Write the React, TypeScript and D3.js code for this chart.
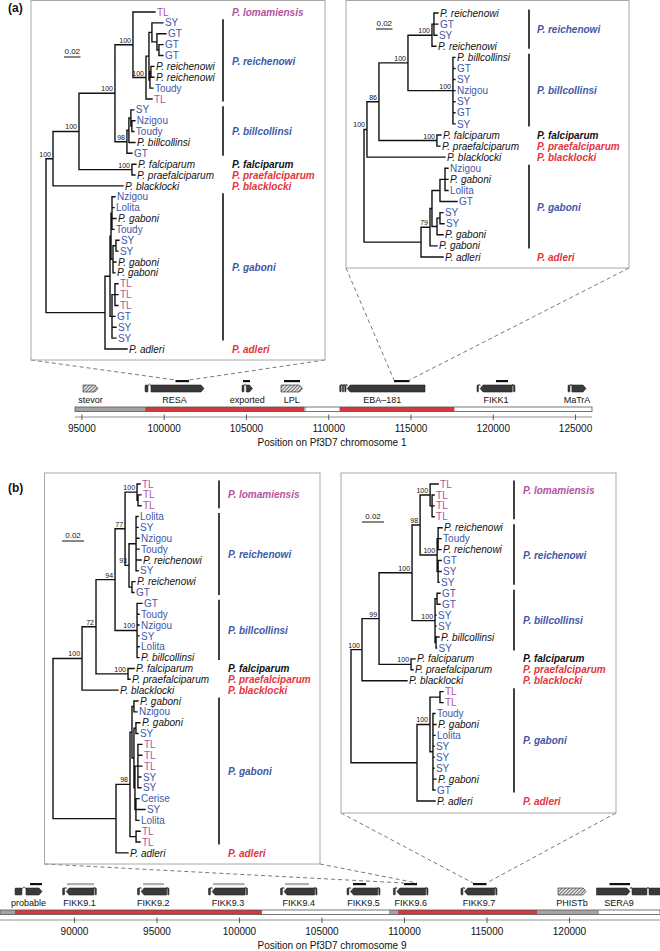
import React from "react";
import * as d3 from "d3";

const FONT = "'Liberation Sans', Arial, Helvetica, sans-serif";
const COLORS: Record<string, string> = { blue: "#3f58a8", magenta: "#b4529f", red: "#e4343d", black: "#111111" };

// ---------- Trees (Newick, branch lengths in 1e-3 substitutions/site) ----------
const A1_REI = "(((SY:13.3,(GT:10.9,(GT:4.8,GT:4.8):2.4):6.1):3.6,((P. reichenowi:3.6,P. reichenowi:3.6):1.2,Toudy:3.6):1.2):3.6,TL:7.3)100:15.8";
const A1_BILL = "(((SY:3.6,(Nzigou:3.6,Toudy:2.4):1.2):2.4,P. billcollinsi:7.3):2.4,GT:6.1)98:14.5";
const A1_FP = "(P. falciparum:4.8,P. praefalciparum:3.6)100:64.2";
const A1_GAB = "((((Nzigou:3.6,Lolita:2.4,P. gaboni:4.8,Toudy:2.4):1.2,((SY:3.6,SY:2.4):3.6,P. gaboni:3.6,P. gaboni:2.4):2.4):1.2,((TL:3.6,TL:3.6,TL:3.6):3.6,GT:3.6,SY:4.8,SY:4.8):2.4):6.1,P. adleri:26.7):71.5";
const TREE_A1 = "(((((TL:26.7," + A1_REI + ")100:21.8," + A1_BILL + ")100:43.6," + A1_FP + ")100:31.5,P. blacklocki:84.8)100:8.5," + A1_GAB + ");";

const A2_REI = "((P. reichenowi:4.8,GT:4.8,SY:3.6):2.4,P. reichenowi:4.8)100:29.1";
const A2_BILL = "(P. billcollinsi:2.4,GT:2.4,SY:2.4,Nzigou:2.4,SY:2.4,GT:2.4,SY:2.4)100:54.5";
const A2_FP = "(P. falciparum:4.8,P. praefalciparum:3.6)100:70.3";
const A2_GAB = "(((((Nzigou:3.6,P. gaboni:3.6,Lolita:3.6):6.1,GT:20.6):9.7,((SY:3.6,SY:4.8):3.6,P. gaboni:7.3):6.1):2.4,P. gaboni:8.5)79:10.9,P. adleri:26.7):69.1";
const TREE_A2 = "((((" + A2_REI + "," + A2_BILL + ")100:35.2," + A2_FP + ")86:14.5,P. blacklocki:94.5)100:3.6," + A2_GAB + ");";

const B1_TL = "(TL:2.7,(TL:2.7,TL:2.7):0.9)100:10.9";
const B1_REI = "((Lolita:1.8,SY:1.8,Nzigou:2.7,Toudy:2.7,P. reichenowi:4.5,SY:1.8):6.4,(P. reichenowi:2.7,GT:1.8):2.7)93:3.6";
const B1_BILL = "(GT:4.5,Toudy:1.8,Nzigou:1.8,SY:1.8,Lolita:1.8,P. billcollinsi:1.8)100:20";
const B1_FP = "(P. falciparum:5.5,P. praefalciparum:1.8)100:29.1";
const B1_GAB = "((((P. gaboni:3.6,Nzigou:2.7):1.8,((P. gaboni:3.6,SY:1.8):1.8,((TL:3.6,TL:3.6,TL:3.6,SY:2.7,SY:2.7):2.7,(Cerise:2.7,SY:8.2,Lolita:2.7):0.9):0.9):1.8):1.8,(TL:3.6,TL:3.6):5.5)98:12.7,P. adleri:10.9):57.3";
const TREE_B1 = "(((((" + B1_TL + "," + B1_REI + ")77:9.1," + B1_BILL + ")94:17.3," + B1_FP + ")72:12.7,P. blacklocki:32.7)100:26.4," + B1_GAB + ");";

const B2_TL = "(TL:7.3,(TL:1.8,TL:1.8,TL:1.8):1.8)100:9.1";
const B2_REI = "((P. reichenowi:3.6,Toudy:2.7,P. reichenowi:2.7):0.9,(GT:2.7,SY:2.7,SY:0.9):0.9)100:15.5";
const B2_BILL = "((GT:2.7,GT:2.7):1.8,SY:0.9,SY:0.9,(P. billcollinsi:2.7,SY:0.5):0.9)100:20.9";
const B2_FP = "(P. falciparum:3.6,P. praefalciparum:1.8)100:29.1";
const B2_GAB = "(((TL:2.7,TL:2.7):9.1,(Toudy:1.8,P. gaboni:2.7,Lolita:1.8,SY:0.9,SY:0.9,SY:0.9,P. gaboni:2.7,GT:1.8):2.7)100:11.8,P. adleri:16.4):60";
const TREE_B2 = "(((((" + B2_TL + "," + B2_REI + ")98:7.3," + B2_BILL + ")100:30," + B2_FP + ")99:15.5,P. blacklocki:40.9)100:10," + B2_GAB + ");";

// ---------- Clade annotations: [name, colour, first row, last row, bar, label row] ----------
type Clade = [string, string, number, number, boolean, number?];
const CLADES_A1: Clade[] = [
  ["P. lomamiensis", "magenta", 0, 0, false],
  ["P. reichenowi", "blue", 1, 8, true],
  ["P. billcollinsi", "blue", 9, 13, true],
  ["P. falciparum", "black", 14, 14, false],
  ["P. praefalciparum", "red", 15, 15, false],
  ["P. blacklocki", "red", 16, 16, false],
  ["P. gaboni", "blue", 17, 30, true],
  ["P. adleri", "red", 31, 31, false],
];
const CLADES_A2: Clade[] = [
  ["P. reichenowi", "blue", 0, 3, true],
  ["P. billcollinsi", "blue", 4, 10, true],
  ["P. falciparum", "black", 11, 11, false],
  ["P. praefalciparum", "red", 12, 12, false],
  ["P. blacklocki", "red", 13, 13, false],
  ["P. gaboni", "blue", 14, 21, true],
  ["P. adleri", "red", 22, 22, false],
];
const CLADES_B1: Clade[] = [
  ["P. lomamiensis", "magenta", 0, 2, true],
  ["P. reichenowi", "blue", 3, 10, true],
  ["P. billcollinsi", "blue", 11, 16, true],
  ["P. falciparum", "black", 17, 17, false],
  ["P. praefalciparum", "red", 18, 18, false],
  ["P. blacklocki", "red", 19, 19, false],
  ["P. gaboni", "blue", 20, 33, true],
  ["P. adleri", "red", 34, 34, false],
];
const CLADES_B2: Clade[] = [
  ["P. lomamiensis", "magenta", 0, 3, true, 0.6],
  ["P. reichenowi", "blue", 4, 9, true],
  ["P. billcollinsi", "blue", 10, 15, true],
  ["P. falciparum", "black", 16, 16, false],
  ["P. praefalciparum", "red", 17, 17, false],
  ["P. blacklocki", "red", 18, 18, false],
  ["P. gaboni", "blue", 19, 28, true],
  ["P. adleri", "red", 29, 29, false],
];

// ---------- Genome tracks ----------
type Gene = { name: string; exons: number[][]; strand: number; hatch?: boolean; marker?: number[]; grey?: boolean; labelAt?: number };
const SEGMENTS_A: [number, number, string][] = [
  [94580, 98840, "grey"], [98840, 108520, "red"], [108520, 108610, "grey"],
  [108610, 110660, "white"], [110660, 117650, "red"], [117650, 126000, "white"],
];
const GENES_A: Gene[] = [
  { name: "stevor", exons: [[95066, 95978]], strand: 1, hatch: true },
  { name: "RESA", exons: [[98834, 99016], [99199, 102420]], strand: 1, marker: [100688, 101508] },
  { name: "exported", exons: [[104729, 104850], [104990, 105367]], strand: 1, marker: [104790, 105215] },
  { name: "LPL", exons: [[107099, 108406]], strand: 1, hatch: true, marker: [107281, 108254] },
  { name: "EBA\u2013181", exons: [[110667, 110750], [110820, 110900], [110970, 111050], [111120, 115851]], strand: -1, marker: [113967, 114909] },
  { name: "FIKK1", exons: [[119011, 119100], [119200, 121150], [121230, 121320]], strand: -1, marker: [120165, 120894] },
  { name: "MaTrA", exons: [[124541, 124660], [124780, 125635]], strand: 1 },
];
const TICKS_A = [95000, 100000, 105000, 110000, 115000, 120000, 125000];

const SEGMENTS_B: [number, number, string][] = [
  [85485, 86390, "grey"], [86390, 101360, "red"], [101360, 109060, "white"], [109060, 109610, "grey"],
  [109610, 118030, "red"], [118030, 121790, "grey"], [121790, 125485, "white"],
];
const GENES_B: Gene[] = [
  { name: "probable", exons: [[86394, 86818], [87061, 88030]], strand: 1, marker: [87303, 88030] },
  { name: "FIKK9.1", exons: [[89279, 89400], [89500, 91180], [91250, 91327]], strand: -1, marker: [89545, 91182], grey: true },
  { name: "FIKK9.2", exons: [[93818, 93940], [94040, 95580], [95650, 95727]], strand: -1, marker: [94152, 95424], grey: true },
  { name: "FIKK9.3", exons: [[98121, 98240], [98340, 100340], [100410, 100485]], strand: -1, marker: [98394, 100303], grey: true },
  { name: "FIKK9.4", exons: [[102485, 102600], [102700, 104550], [104620, 104697]], strand: -1, marker: [102758, 104212], grey: true },
  { name: "FIKK9.5", exons: [[106515, 106630], [106730, 108370], [108440, 108515]], strand: -1, marker: [106879, 107667] },
  { name: "FIKK9.6", exons: [[109327, 109440], [109540, 111280], [111350, 111424]], strand: -1, marker: [109970, 110758] },
  { name: "FIKK9.7", exons: [[113424, 113540], [113640, 115460], [115530, 115606]], strand: -1, marker: [114152, 114970] },
  { name: "PHISTb", exons: [[119303, 121000]], strand: 1, hatch: true },
  { name: "SERA9", exons: [[121636, 123667], [123788, 124697], [124818, 125606]], strand: 1, marker: [122424, 123667], labelAt: 123000 },
];
const TICKS_B = [90000, 95000, 100000, 105000, 110000, 115000, 120000];

// ---------- Layout configuration ----------
const TREES = [
  { id: "a1", newick: TREE_A1, clades: CLADES_A1, rootX: 46, y0: 12, dy: 10.87, k: 0.825, barX: 223, textX: 232, scaleX: 64, scaleY: 57, box: [31, 0.5, 325, 360] },
  { id: "a2", newick: TREE_A2, clades: CLADES_A2, rootX: 364, y0: 13, dy: 11.09, k: 0.825, barX: 529, textX: 537, scaleX: 376, scaleY: 29, box: [346, 0.5, 629, 268] },
  { id: "b1", newick: TREE_B1, clades: CLADES_B1, rootX: 53, y0: 484, dy: 10.85, k: 1.1, barX: 219, textX: 228, scaleX: 62, scaleY: 541, box: [44.5, 473, 320, 864] },
  { id: "b2", newick: TREE_B2, clades: CLADES_B2, rootX: 351, y0: 484, dy: 10.93, k: 1.1, barX: 514, textX: 523, scaleX: 362, scaleY: 522, box: [341, 473, 616, 813] },
];
const TRACKS = [
  { id: "A", segments: SEGMENTS_A, genes: GENES_A, ticks: TICKS_A, domain: [94580, 126000], range: [75, 592], top: 381, title: "Position on Pf3D7 chromosome 1", links: [["a1", "RESA"], ["a2", "EBA\u2013181"]] },
  { id: "B", segments: SEGMENTS_B, genes: GENES_B, ticks: TICKS_B, domain: [85485, 125485], range: [0, 660], top: 884, title: "Position on Pf3D7 chromosome 9", links: [["b1", "FIKK9.6"], ["b2", "FIKK9.7"]] },
];

type PNode = { name: string; support: string; length: number; children: PNode[] };
function parseNewick(s: string): PNode {
  let i = 0;
  const read = (): PNode => {
    const node: PNode = { name: "", support: "", length: 0, children: [] };
    if (s[i] === "(") {
      i++;
      node.children.push(read());
      while (s[i] === ",") { i++; node.children.push(read()); }
      i++;
    }
    let label = "";
    while (i < s.length && !",():;".includes(s[i])) label += s[i++];
    label = label.trim();
    if (node.children.length) node.support = label; else node.name = label;
    if (s[i] === ":") {
      i++;
      let num = "";
      while (i < s.length && !",();".includes(s[i])) num += s[i++];
      node.length = parseFloat(num);
    }
    return node;
  };
  return read();
}

function leafColor(name: string) {
  if (name.startsWith("P. ")) return COLORS.black;
  if (name === "TL") return COLORS.magenta;
  return COLORS.blue;
}

function Tree({ cfg }: { cfg: any }) {
  const root: any = d3.hierarchy(parseNewick(cfg.newick), (d: PNode) => (d.children.length ? d.children : null));
  root.each((n: any) => { n.dist = n.parent ? n.parent.dist + n.data.length : 0; });
  const xs = d3.scaleLinear().domain([0, 1]).range([cfg.rootX, cfg.rootX + cfg.k]);
  const leaves = root.leaves();
  const ys = d3.scaleLinear().domain([0, 1]).range([cfg.y0, cfg.y0 + cfg.dy]);
  leaves.forEach((l: any, i: number) => { l.py = ys(i); });
  root.eachAfter((n: any) => {
    if (n.children) n.py = (n.children[0].py + n.children[n.children.length - 1].py) / 2;
  });
  root.each((n: any) => { n.px = xs(n.dist); });
  const nodes = root.descendants();
  let d = "";
  nodes.forEach((n: any) => {
    if (n.parent) d += `M${n.parent.px},${n.py}H${n.px}`;
    if (n.children) d += `M${n.px},${n.children[0].py}V${n.children[n.children.length - 1].py}`;
  });
  const [bx0, by0, bx1, by1] = cfg.box;
  return (
    <g>
      <rect x={bx0} y={by0} width={bx1 - bx0} height={by1 - by0} fill="none" stroke="#a8a8a8" strokeWidth={1} />
      <path d={d} fill="none" stroke="#111" strokeWidth={1.4} strokeLinecap="square" />
      {nodes.filter((n: any) => n.children && n.data.support).map((n: any, i: number) => (
        <text key={"s" + i} x={n.px - 2} y={n.py - 2} fontSize={7} textAnchor="end" fill="#111">{n.data.support}</text>
      ))}
      {leaves.map((l: any, i: number) => (
        <text key={"l" + i} x={l.px + 2} y={l.py + 3.6} fontSize={10} fill={leafColor(l.data.name)}
          fontStyle={l.data.name.startsWith("P. ") ? "italic" : "normal"}>{l.data.name}</text>
      ))}
      {cfg.clades.map((c: Clade, i: number) => {
        const [name, col, first, last, bar, lr] = c;
        const yl = lr !== undefined ? ys(lr) : (ys(first) + ys(last)) / 2;
        return (
          <g key={"c" + i}>
            {bar && <line x1={cfg.barX} x2={cfg.barX} y1={ys(first) - 3.5} y2={ys(last) + 2.5} stroke="#111" strokeWidth={1.6} />}
            <text x={cfg.textX} y={yl + 3.6} fontSize={10} fontWeight="bold" fontStyle="italic" fill={COLORS[col]}>{name}</text>
          </g>
        );
      })}
      <line x1={cfg.scaleX} x2={xs(20) - cfg.rootX + cfg.scaleX} y1={cfg.scaleY} y2={cfg.scaleY} stroke="#111" strokeWidth={1} />
      <text x={(xs(20) - cfg.rootX) / 2 + cfg.scaleX} y={cfg.scaleY - 3} fontSize={8} textAnchor="middle" fill="#111">0.02</text>
    </g>
  );
}

function Track({ tr }: { tr: any }) {
  const x = d3.scaleLinear().domain(tr.domain).range(tr.range);
  const t = tr.top;
  const gy0 = t + 4, gy1 = t + 11, gcy = (gy0 + gy1) / 2;
  const segFill: Record<string, string> = { grey: "#a3a3a3", red: "#d2383d", white: "#ffffff" };
  return (
    <g>
      {tr.genes.map((g: Gene, gi: number) => {
        const ex = g.exons.map(([s, e]) => [x(s), x(e)]);
        let mi = 0;
        ex.forEach((e, i) => { if (e[1] - e[0] > ex[mi][1] - ex[mi][0]) mi = i; });
        const fill = g.hatch ? "url(#hatch)" : "#3a3a3a";
        const lx = g.labelAt !== undefined ? x(g.labelAt) : (ex[0][0] + ex[ex.length - 1][1]) / 2;
        return (
          <g key={gi}>
            {g.marker && <rect x={x(g.marker[0])} y={t - 1} width={x(g.marker[1]) - x(g.marker[0])} height={2.2} fill={g.grey ? "#b0b0b0" : "#111"} />}
            {ex.slice(1).map((e, i) => {
              const a = ex[i][1], b = e[0];
              return <path key={"i" + i} d={`M${a},${gy0 + 1}Q${(a + b) / 2},${gy0 - 3} ${b},${gy0 + 1}`} fill="none" stroke="#333" strokeWidth={0.8} />;
            })}
            {ex.map(([a, b], i) => {
              if (i !== mi) return <rect key={"e" + i} x={a} y={gy0} width={Math.max(b - a, 1.2)} height={gy1 - gy0} rx={0.8} fill={fill} stroke="#222" strokeWidth={0.5} />;
              const p = g.strand > 0
                ? `M${a},${gy0}H${b - 3}L${b},${gcy}L${b - 3},${gy1}H${a}Z`
                : `M${b},${gy0}H${a + 3}L${a},${gcy}L${a + 3},${gy1}H${b}Z`;
              return <path key={"e" + i} d={p} fill={fill} stroke="#222" strokeWidth={0.6} />;
            })}
            <text x={lx} y={t + 22} fontSize={9} textAnchor="middle" fill="#111">{g.name}</text>
          </g>
        );
      })}
      {tr.segments.map(([s, e, c]: [number, number, string], i: number) => (
        <rect key={"sg" + i} x={x(s)} y={t + 26} width={x(e) - x(s)} height={4.5} fill={segFill[c]} />
      ))}
      <rect x={tr.range[0]} y={t + 26} width={tr.range[1] - tr.range[0]} height={4.5} fill="none" stroke="#555" strokeWidth={0.8} />
      <line x1={tr.range[0]} x2={tr.range[1]} y1={t + 36} y2={t + 36} stroke="#777" strokeWidth={0.8} />
      {tr.ticks.map((v: number) => (
        <g key={v}>
          <line x1={x(v)} x2={x(v)} y1={t + 33.5} y2={t + 39} stroke="#333" strokeWidth={0.8} />
          <text x={x(v)} y={t + 51} fontSize={10} textAnchor="middle" fill="#111">{v}</text>
        </g>
      ))}
      <text x={332} y={t + 65} fontSize={10} textAnchor="middle" fill="#111">{tr.title}</text>
    </g>
  );
}

function Links({ tr }: { tr: any }) {
  const x = d3.scaleLinear().domain(tr.domain).range(tr.range);
  return (
    <g>
      {tr.links.map(([tid, gname]: [string, string], i: number) => {
        const cfg: any = TREES.find((t) => t.id === tid);
        const g: any = tr.genes.find((gg: Gene) => gg.name === gname);
        const [bx0, , bx1, by1] = cfg.box;
        return (
          <g key={i}>
            <line x1={bx0} y1={by1} x2={x(g.marker[0])} y2={tr.top - 1} stroke="#555" strokeWidth={0.8} strokeDasharray="4,3" />
            <line x1={bx1} y1={by1} x2={x(g.marker[1])} y2={tr.top - 1} stroke="#555" strokeWidth={0.8} strokeDasharray="4,3" />
          </g>
        );
      })}
    </g>
  );
}

export default function App() {
  return (
    <svg width={660} height={951} style={{ position: "absolute", left: 0, top: 0, background: "#fff" }} fontFamily={FONT}>
      <defs>
        <pattern id="hatch" width={2.5} height={2.5} patternUnits="userSpaceOnUse" patternTransform="rotate(45)">
          <rect width={2.5} height={2.5} fill="#e0e0e0" />
          <line x1={0} y1={0} x2={0} y2={2.5} stroke="#333" strokeWidth={1.2} />
        </pattern>
      </defs>
      <rect x={0} y={0} width={660} height={951} fill="#fff" />
      {TRACKS.map((tr) => <Links key={"l" + tr.id} tr={tr} />)}
      {TREES.map((cfg) => <Tree key={cfg.id} cfg={cfg} />)}
      {TRACKS.map((tr) => <Track key={tr.id} tr={tr} />)}
      <text x={8} y={12} fontSize={12} fontWeight="bold" fill="#111">(a)</text>
      <text x={8} y={492} fontSize={12} fontWeight="bold" fill="#111">(b)</text>
    </svg>
  );
}
